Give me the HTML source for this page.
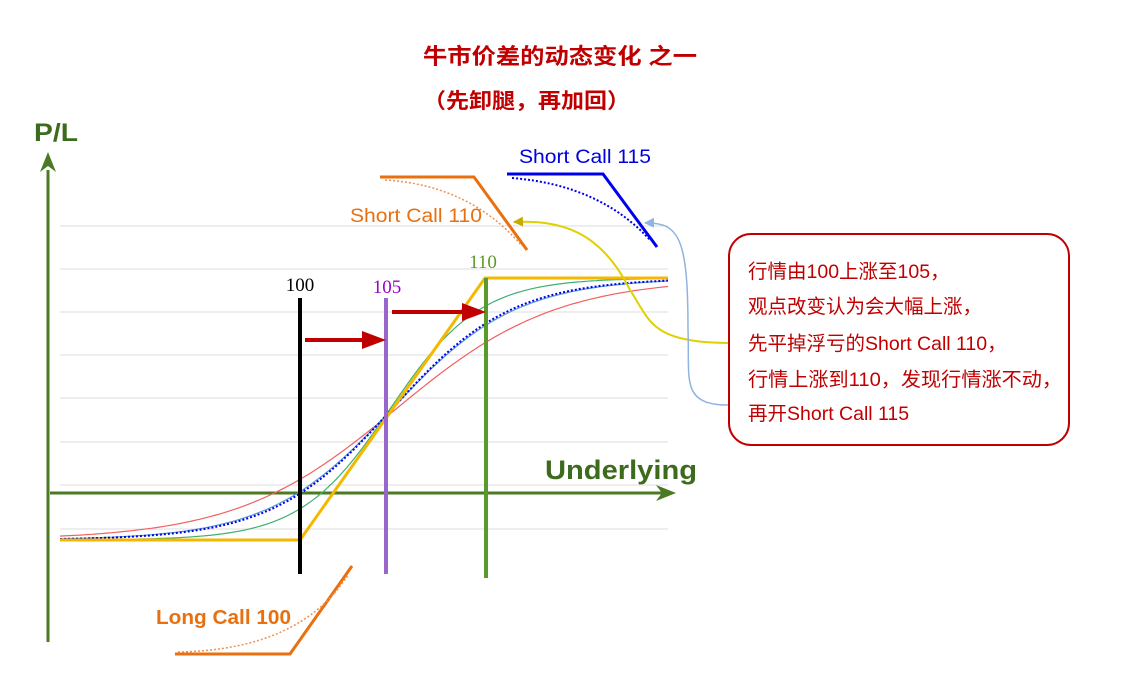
<!DOCTYPE html>
<html><head><meta charset="utf-8"><style>
html,body{margin:0;padding:0;background:#fff;width:1127px;height:699px;overflow:hidden}
svg{display:block}
text{font-family:"Liberation Sans","Noto Sans CJK SC",sans-serif}
</style></head><body>
<svg id="s" width="1127" height="699" viewBox="0 0 1127 699" xmlns="http://www.w3.org/2000/svg">
<defs>
<marker id="ar" markerWidth="10" markerHeight="10" refX="9" refY="5" orient="auto" markerUnits="userSpaceOnUse"><path d="M0,0 L10,5 L0,10z" fill="#c8a900"/></marker>
<marker id="ab" markerWidth="10" markerHeight="10" refX="9" refY="5" orient="auto" markerUnits="userSpaceOnUse"><path d="M0,0 L10,5 L0,10z" fill="#8fb4e0"/></marker>
</defs>
<text x="423" y="64" font-size="22" font-weight="bold" fill="#c00000" textLength="274" lengthAdjust="spacingAndGlyphs">牛市价差的动态变化  之一</text>
<text x="423" y="108" font-size="21" font-weight="bold" fill="#c00000" textLength="207" lengthAdjust="spacingAndGlyphs">（先卸腿，再加回）</text>
<text x="34" y="141" font-size="25" font-weight="bold" fill="#3d6b1e" textLength="44" lengthAdjust="spacingAndGlyphs">P/L</text>
<text x="545" y="479" font-size="27" font-weight="bold" fill="#3d6b1e" textLength="152" lengthAdjust="spacingAndGlyphs">Underlying</text>
<g stroke="#e4e4e4" stroke-width="1.2">
<line x1="60" y1="226" x2="668" y2="226"/><line x1="60" y1="269" x2="668" y2="269"/>
<line x1="60" y1="312" x2="668" y2="312"/><line x1="60" y1="355" x2="668" y2="355"/>
<line x1="60" y1="398" x2="668" y2="398"/><line x1="60" y1="442" x2="668" y2="442"/>
<line x1="60" y1="485" x2="668" y2="485"/><line x1="60" y1="529" x2="668" y2="529"/>
</g>
<line x1="48" y1="642" x2="48" y2="170" stroke="#4a7a22" stroke-width="3"/>
<path d="M40,172 L48,152 L56,172 L48,166z" fill="#4a7a22"/>
<line x1="50" y1="493" x2="665" y2="493" stroke="#4a7a22" stroke-width="3"/>
<path d="M656,485 L676,493 L656,501 L662,493z" fill="#4a7a22"/>
<g id="curves" fill="none"></g>
<polyline points="60,540 300,540 485,278 668,278" fill="none" stroke="#f5b800" stroke-width="3"/>
<line x1="300" y1="298" x2="300" y2="574" stroke="#000" stroke-width="4"/>
<line x1="386" y1="298" x2="386" y2="574" stroke="#9966cc" stroke-width="4"/>
<line x1="486" y1="278" x2="486" y2="578" stroke="#5a9a2a" stroke-width="4"/>
<text x="300" y="291" text-anchor="middle" font-size="19" fill="#000" style="font-family:'Liberation Serif',serif">100</text>
<text x="387" y="293" text-anchor="middle" font-size="19" fill="#9900cc" style="font-family:'Liberation Serif',serif">105</text>
<text x="483" y="268" text-anchor="middle" font-size="19" fill="#5a9a2a" style="font-family:'Liberation Serif',serif">110</text>
<line x1="305" y1="340" x2="366" y2="340" stroke="#c00000" stroke-width="4"/>
<path d="M362,331 L386,340 L362,349z" fill="#c00000"/>
<line x1="392" y1="312" x2="466" y2="312" stroke="#c00000" stroke-width="4"/>
<path d="M462,303 L486,312 L462,321z" fill="#c00000"/>
<polyline points="380,177 474,177 527,250" fill="none" stroke="#e87010" stroke-width="3"/>
<path d="M385,180 Q470,185 522,246" fill="none" stroke="#f09050" stroke-width="1.5" stroke-dasharray="2,2"/>
<text x="350" y="222" font-size="19" fill="#e87010" textLength="132" lengthAdjust="spacingAndGlyphs">Short Call 110</text>
<polyline points="507,174 603,174 657,247" fill="none" stroke="#0000ee" stroke-width="3"/>
<path d="M512,178 Q600,185 650,240" fill="none" stroke="#0000ee" stroke-width="2" stroke-dasharray="2,2"/>
<text x="519" y="163" font-size="19" fill="#0000dd" textLength="132" lengthAdjust="spacingAndGlyphs">Short Call 115</text>
<polyline points="175,654 290,654 352,566" fill="none" stroke="#e87010" stroke-width="3"/>
<path d="M178,652 Q300,650 348,575" fill="none" stroke="#f09050" stroke-width="1.5" stroke-dasharray="2,2"/>
<text x="156" y="624" font-size="20" font-weight="bold" fill="#e87010" textLength="135" lengthAdjust="spacingAndGlyphs">Long Call 100</text>
<path d="M729,343 C650,343 650,320 630,290 C600,230 560,220 514,222" fill="none" stroke="#e0d000" stroke-width="2" marker-end="url(#ar)"/>
<path d="M729,405 C680,405 690,380 688,330 C688,240 680,222 645,223" fill="none" stroke="#8fb4e0" stroke-width="1.5" marker-end="url(#ab)"/>
<rect x="729" y="234" width="340" height="211" rx="22" fill="#fff" stroke="#c00000" stroke-width="2"/>
<g font-size="19.5" fill="#c00000">
<text x="748" y="278">行情由100上涨至105，</text>
<text x="748" y="313">观点改变认为会大幅上涨，</text>
<text x="748" y="350">先平掉浮亏的Short Call 110，</text>
<text x="748" y="386" textLength="314" lengthAdjust="spacingAndGlyphs">行情上涨到110，发现行情涨不动，</text>
<text x="748" y="420">再开Short Call 115</text>
</g>
</svg>
<script>
(function(){
var g=document.getElementById('curves');
function c(k,col,w,dash,cx){var p=[];for(var x=60;x<=668;x+=4){var y=540-262/(1+Math.exp(-(x-cx)/k));p.push(x+','+y.toFixed(1));}
var e=document.createElementNS('http://www.w3.org/2000/svg','polyline');e.setAttribute('points',p.join(' '));e.setAttribute('stroke',col);e.setAttribute('stroke-width',w);e.setAttribute('fill','none');if(dash)e.setAttribute('stroke-dasharray',dash);g.appendChild(e);}
c(80,'#f06060',1.2,null,396);c(62,'#5a9ad0',1.2,null,392);c(45,'#40b070',1.2,null,390);c(60,'#0000ee',2,'2,2',392);
})();
</script>
</body></html>
